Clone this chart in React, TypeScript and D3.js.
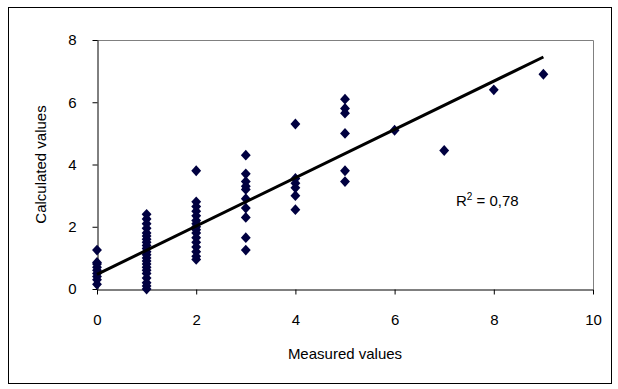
import React, { useRef, useEffect } from "react";
import * as d3 from "d3";

const measured = [0, 1, 2, 3, 4, 5, 6, 7, 8, 9];
const calculated: number[][] = [
    [0.15, 0.3, 0.4, 0.5, 0.6, 0.7, 0.8, 0.85, 1.25],
    [0, 0.1, 0.2, 0.35, 0.5, 0.6, 0.7, 0.8, 0.9, 1.0, 1.1, 1.2, 1.3, 1.4, 1.5, 1.6, 1.7, 1.8, 1.95, 2.1, 2.25, 2.4],
    [0.95, 1.05, 1.2, 1.35, 1.5, 1.65, 1.8, 1.9, 2.0, 2.1, 2.2, 2.35, 2.5, 2.65, 2.8, 3.8],
    [1.25, 1.65, 2.3, 2.6, 2.9, 3.2, 3.3, 3.45, 3.7, 4.3],
    [2.55, 3.0, 3.25, 3.4, 3.55, 5.3],
    [3.45, 3.8, 5.0, 5.65, 5.8, 6.1],
    [5.1],
    [4.45],
    [6.4],
    [6.9],
];
const xTicks = [0, 2, 4, 6, 8, 10];
const yTicks = [0, 2, 4, 6, 8];
const trend = { intercept: 0.47, slope: 0.776, from: 0, to: 9 };
const r2Label = "0,78";

const Chart = () => {
    const ref = useRef<SVGSVGElement | null>(null);

    useEffect(() => {
        const width = 618;
        const height = 389;
        const plot = { left: 97, right: 593, top: 40, bottom: 289 };
        const font = "'Liberation Sans', Arial, sans-serif";

        const svg = d3.select(ref.current);
        svg.selectAll("*").remove();

        const x = d3.scaleLinear().domain([0, 10]).range([plot.left, plot.right]);
        const y = d3.scaleLinear().domain([0, 8]).range([plot.bottom, plot.top]);

        svg.append("rect")
            .attr("width", width)
            .attr("height", height)
            .attr("fill", "#fff");

        // outer chart border
        svg.append("rect")
            .attr("x", 8.5)
            .attr("y", 7.5)
            .attr("width", 603)
            .attr("height", 376)
            .attr("fill", "none")
            .attr("stroke", "#000");

        // plot area frame (grey top/right)
        svg.append("path")
            .attr("d", `M${plot.left},${plot.top + 0.5}H${plot.right + 0.5}V${plot.bottom}`)
            .attr("fill", "none")
            .attr("stroke", "#808080");

        // X axis
        const gx = svg
            .append("g")
            .attr("transform", `translate(0,${plot.bottom + 0.5})`)
            .call(d3.axisBottom(x).tickValues(xTicks).tickSize(5).tickSizeOuter(0).tickPadding(20));
        gx.select(".domain").attr("stroke", "#000");
        gx.selectAll("text").attr("font-family", font).attr("font-size", 15).attr("fill", "#000");

        // Y axis
        const gy = svg
            .append("g")
            .attr("transform", `translate(${plot.left + 0.5},0)`)
            .call(d3.axisLeft(y).tickValues(yTicks).tickSize(5).tickSizeOuter(0).tickPadding(16));
        gy.select(".domain").attr("stroke", "#000");
        gy.selectAll("text").attr("font-family", font).attr("font-size", 15).attr("fill", "#000");

        const points = measured.flatMap((m, i) => calculated[i].map((c) => ({ m, c })));
        const diamond = d3.symbol().type(d3.symbolDiamond2).size(62);
        svg.append("g")
            .selectAll("path")
            .data(points)
            .join("path")
            .attr("transform", (d) => `translate(${x(d.m)},${y(d.c)}) scale(1,1.1)`)
            .attr("d", diamond)
            .attr("fill", "#000040");

        // linear trend line
        svg.append("line")
            .attr("x1", x(trend.from))
            .attr("y1", y(trend.intercept + trend.slope * trend.from))
            .attr("x2", x(trend.to))
            .attr("y2", y(trend.intercept + trend.slope * trend.to))
            .attr("stroke", "#000")
            .attr("stroke-width", 3);

        const r2 = svg.append("text")
            .attr("x", 456)
            .attr("y", 206)
            .attr("font-family", font)
            .attr("font-size", 15)
            .attr("fill", "#000");
        r2.append("tspan").text("R");
        r2.append("tspan").attr("dy", -6).attr("font-size", 10).text("2");
        r2.append("tspan").attr("dy", 6).text(` = ${r2Label}`);

        svg.append("text")
            .attr("x", (plot.left + plot.right) / 2)
            .attr("y", 359)
            .attr("text-anchor", "middle")
            .attr("font-family", font)
            .attr("font-size", 15)
            .text("Measured values");

        svg.append("text")
            .attr("transform", `translate(46,${(plot.top + plot.bottom) / 2}) rotate(-90)`)
            .attr("text-anchor", "middle")
            .attr("font-family", font)
            .attr("font-size", 15)
            .text("Calculated values");
    }, []);

    return (
        <svg
            ref={ref}
            width={618}
            height={389}
            style={{ position: "absolute", left: 0, top: 0, display: "block" }}
        />
    );
};

export default function App() {
    return <Chart />;
}
